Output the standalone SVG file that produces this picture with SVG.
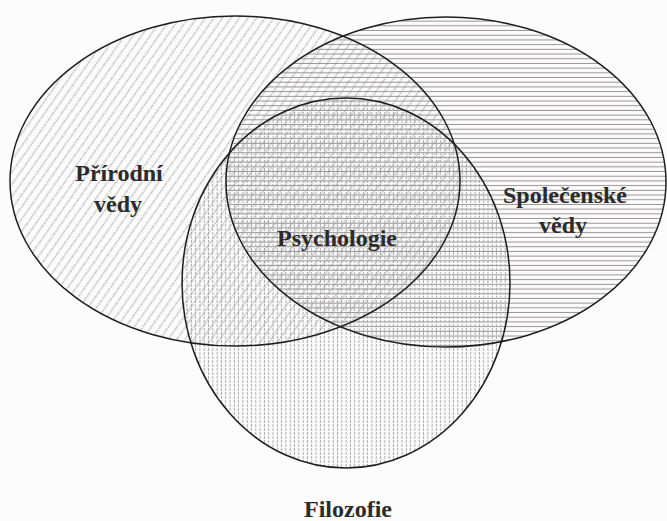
<svg xmlns="http://www.w3.org/2000/svg" width="667" height="521" viewBox="0 0 667 521">
  <defs>
    <pattern id="diag" patternUnits="userSpaceOnUse" width="7" height="7" patternTransform="rotate(35)">
      <line x1="3.5" y1="0" x2="3.5" y2="7" stroke="#b5b5b5" stroke-width="1.5" stroke-dasharray="1.5 1"/>
    </pattern>
    <pattern id="horiz" patternUnits="userSpaceOnUse" width="8" height="4.7">
      <line x1="0" y1="2.3" x2="8" y2="2.3" stroke="#9a9494" stroke-width="1"/>
    </pattern>
    <pattern id="vert" patternUnits="userSpaceOnUse" width="4.3" height="8">
      <line x1="2.1" y1="0" x2="2.1" y2="8" stroke="#ababab" stroke-width="1" stroke-dasharray="3 1"/>
    </pattern>
    <style>
      .outline { fill: none; stroke: #1e1e1e; stroke-width: 1.5; }
      .label { font-family: "Liberation Serif", "Times New Roman", serif; font-weight: bold; font-size: 24px; fill: #2b2b2b; text-anchor: middle; }
    </style>
  </defs>
  <rect width="667" height="521" fill="#fcfcfc"/>
  <g id="fills">
    <ellipse cx="235" cy="181" rx="225" ry="165" fill="url(#diag)"/>
    <ellipse cx="446" cy="182" rx="220" ry="165" fill="url(#horiz)"/>
    <ellipse cx="346" cy="283" rx="164" ry="185" fill="url(#vert)"/>
  </g>
  <g id="prirodni-vedy">
    <ellipse class="outline" cx="235" cy="181" rx="225" ry="165"/>
    <text class="label" x="119" y="181">Přírodní</text>
    <text class="label" x="118" y="212">vědy</text>
  </g>
  <g id="spolecenske-vedy">
    <ellipse class="outline" cx="446" cy="182" rx="220" ry="165"/>
    <text class="label" x="565" y="203">Společenské</text>
    <text class="label" x="563" y="233">vědy</text>
  </g>
  <g id="filozofie">
    <ellipse class="outline" cx="346" cy="283" rx="164" ry="185"/>
    <text class="label" x="348" y="517">Filozofie</text>
  </g>
  <g id="psychologie">
    <text class="label" x="337" y="246">Psychologie</text>
  </g>
</svg>
